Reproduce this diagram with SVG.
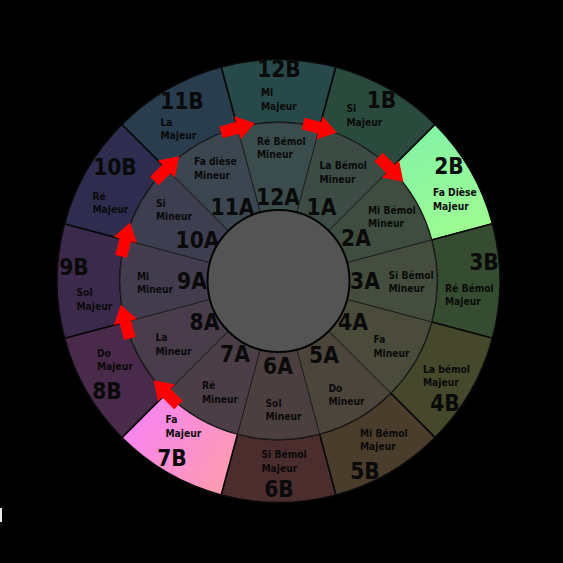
<svg xmlns="http://www.w3.org/2000/svg" width="563" height="563" viewBox="0 0 563 563">
<defs>
<style>
.b{stroke:#0a0a0a;stroke-width:1.6}
.a{stroke:#1e1e1e;stroke-width:0.9}
text{font-family:"DejaVu Sans Condensed","Liberation Sans",Arial,sans-serif;font-stretch:condensed;font-weight:bold;fill:#0a0a0a}
.big{font-size:22.5px;text-anchor:middle}
.sm{font-size:10.2px}
.arr{fill:#ff0000}
</style>
<linearGradient id="g2" gradientUnits="userSpaceOnUse" x1="420" y1="130" x2="480" y2="250">
<stop offset="0" stop-color="#84f2a6"/><stop offset="1" stop-color="#a2ff8e"/>
</linearGradient>
<linearGradient id="g7" gradientUnits="userSpaceOnUse" x1="135" y1="415" x2="235" y2="480">
<stop offset="0" stop-color="#f884f0"/><stop offset="1" stop-color="#ff9cae"/>
</linearGradient>
<polygon id="arrow" points="-17,-6 0,-6 0,-12 18,0 0,12 0,6 -17,6"/>
</defs>
<rect width="563" height="563" fill="#000"/>
<rect x="0" y="508" width="2" height="14" fill="#e8e8e8"/>

<g id="ring-b">
<g id="k12B"><path class="b" fill="#274949" d="M221.17,67.05 A221.5,221.5 0 0 1 335.83,67.05 L319.52,127.90 A158.5,158.5 0 0 0 237.48,127.90 Z"/><text class="big" x="279" y="77">12B</text><text class="sm" x="261" y="96">Mi<tspan x="261" dy="13.7">Majeur</tspan></text></g>
<g id="k1B"><path class="b" fill="#294a3c" d="M335.83,67.05 A221.5,221.5 0 0 1 435.12,124.38 L390.58,168.92 A158.5,158.5 0 0 0 319.52,127.90 Z"/><text class="big" x="381.5" y="108">1B</text><text class="sm" x="346.5" y="112">Si<tspan x="346.5" dy="13.7">Majeur</tspan></text></g>
<g id="k2B"><path class="b" fill="url(#g2)" d="M435.12,124.38 A221.5,221.5 0 0 1 492.45,223.67 L431.60,239.98 A158.5,158.5 0 0 0 390.58,168.92 Z"/><text class="big" x="449" y="174">2B</text><text class="sm" x="433" y="196">Fa Dièse<tspan x="433" dy="13.7">Majeur</tspan></text></g>
<g id="k3B"><path class="b" fill="#364c31" d="M492.45,223.67 A221.5,221.5 0 0 1 492.45,338.33 L431.60,322.02 A158.5,158.5 0 0 0 431.60,239.98 Z"/><text class="big" x="484" y="270">3B</text><text class="sm" x="445" y="291.5">Ré Bémol<tspan x="445" dy="13.7">Majeur</tspan></text></g>
<g id="k4B"><path class="b" fill="#45482a" d="M492.45,338.33 A221.5,221.5 0 0 1 435.12,437.62 L390.58,393.08 A158.5,158.5 0 0 0 431.60,322.02 Z"/><text class="sm" x="423" y="372.5">La bémol<tspan x="423" dy="13.7">Majeur</tspan></text><text class="big" x="445" y="410.5">4B</text></g>
<g id="k5B"><path class="b" fill="#4b3d2c" d="M435.12,437.62 A221.5,221.5 0 0 1 335.83,494.95 L319.52,434.10 A158.5,158.5 0 0 0 390.58,393.08 Z"/><text class="sm" x="360" y="436.5">Mi Bémol<tspan x="360" dy="13.7">Majeur</tspan></text><text class="big" x="365" y="479">5B</text></g>
<g id="k6B"><path class="b" fill="#4b2d2e" d="M335.83,494.95 A221.5,221.5 0 0 1 221.17,494.95 L237.48,434.10 A158.5,158.5 0 0 0 319.52,434.10 Z"/><text class="sm" x="261.5" y="458">Si Bémol<tspan x="261.5" dy="13.7">Majeur</tspan></text><text class="big" x="279" y="497">6B</text></g>
<g id="k7B"><path class="b" fill="url(#g7)" d="M221.17,494.95 A221.5,221.5 0 0 1 121.88,437.62 L166.42,393.08 A158.5,158.5 0 0 0 237.48,434.10 Z"/><text class="sm" x="165.5" y="423">Fa<tspan x="165.5" dy="13.7">Majeur</tspan></text><text class="big" x="172" y="465.5">7B</text></g>
<g id="k8B"><path class="b" fill="#4a2a4a" d="M121.88,437.62 A221.5,221.5 0 0 1 64.55,338.33 L125.40,322.02 A158.5,158.5 0 0 0 166.42,393.08 Z"/><text class="sm" x="97" y="356.5">Do<tspan x="97" dy="13.7">Majeur</tspan></text><text class="big" x="107" y="399">8B</text></g>
<g id="k9B"><path class="b" fill="#3c2a4c" d="M64.55,338.33 A221.5,221.5 0 0 1 64.55,223.67 L125.40,239.98 A158.5,158.5 0 0 0 125.40,322.02 Z"/><text class="big" x="74" y="274.5">9B</text><text class="sm" x="76.5" y="296">Sol<tspan x="76.5" dy="13.7">Majeur</tspan></text></g>
<g id="k10B"><path class="b" fill="#2e2d50" d="M64.55,223.67 A221.5,221.5 0 0 1 121.88,124.38 L166.42,168.92 A158.5,158.5 0 0 0 125.40,239.98 Z"/><text class="big" x="115" y="175">10B</text><text class="sm" x="92.5" y="199.5">Ré<tspan x="92.5" dy="13.7">Majeur</tspan></text></g>
<g id="k11B"><path class="b" fill="#293d4f" d="M121.88,124.38 A221.5,221.5 0 0 1 221.17,67.05 L237.48,127.90 A158.5,158.5 0 0 0 166.42,168.92 Z"/><text class="big" x="182" y="109">11B</text><text class="sm" x="160.5" y="125.5">La<tspan x="160.5" dy="13.7">Majeur</tspan></text></g>
</g>

<g id="ring-a">
<g id="k12A"><path class="a" fill="#3b4c4c" d="M237.48,127.90 A158.5,158.5 0 0 1 319.52,127.90 L296.88,212.42 A71,71 0 0 0 260.12,212.42 Z"/><text class="sm" x="257" y="144.5">Ré Bémol<tspan x="257" dy="13.7">Mineur</tspan></text><text class="big" x="278" y="205">12A</text></g>
<g id="k1A"><path class="a" fill="#3c4c44" d="M319.52,127.90 A158.5,158.5 0 0 1 390.58,168.92 L328.70,230.80 A71,71 0 0 0 296.88,212.42 Z"/><text class="sm" x="319.5" y="169">La Bémol<tspan x="319.5" dy="13.7">Mineur</tspan></text><text class="big" x="321.5" y="215">1A</text></g>
<g id="k2A"><path class="a" fill="#3f4d40" d="M390.58,168.92 A158.5,158.5 0 0 1 431.60,239.98 L347.08,262.62 A71,71 0 0 0 328.70,230.80 Z"/><text class="sm" x="368" y="213.5">Mi Bémol<tspan x="368" dy="13.7">Mineur</tspan></text><text class="big" x="356" y="246">2A</text></g>
<g id="k3A"><path class="a" fill="#454e3e" d="M431.60,239.98 A158.5,158.5 0 0 1 431.60,322.02 L347.08,299.38 A71,71 0 0 0 347.08,262.62 Z"/><text class="big" x="365" y="289">3A</text><text class="sm" x="388.5" y="278.5">Si Bémol<tspan x="388.5" dy="13.7">Mineur</tspan></text></g>
<g id="k4A"><path class="a" fill="#4a4b3b" d="M431.60,322.02 A158.5,158.5 0 0 1 390.58,393.08 L328.70,331.20 A71,71 0 0 0 347.08,299.38 Z"/><text class="big" x="353" y="330">4A</text><text class="sm" x="373.5" y="343">Fa<tspan x="373.5" dy="13.7">Mineur</tspan></text></g>
<g id="k5A"><path class="a" fill="#4c453c" d="M390.58,393.08 A158.5,158.5 0 0 1 319.52,434.10 L296.88,349.58 A71,71 0 0 0 328.70,331.20 Z"/><text class="big" x="324" y="362.5">5A</text><text class="sm" x="328.5" y="391.5">Do<tspan x="328.5" dy="13.7">Mineur</tspan></text></g>
<g id="k6A"><path class="a" fill="#4c3f3f" d="M319.52,434.10 A158.5,158.5 0 0 1 237.48,434.10 L260.12,349.58 A71,71 0 0 0 296.88,349.58 Z"/><text class="big" x="278" y="373.5">6A</text><text class="sm" x="265.5" y="406.5">Sol<tspan x="265.5" dy="13.7">Mineur</tspan></text></g>
<g id="k7A"><path class="a" fill="#4c3e47" d="M237.48,434.10 A158.5,158.5 0 0 1 166.42,393.08 L228.30,331.20 A71,71 0 0 0 260.12,349.58 Z"/><text class="big" x="235" y="362">7A</text><text class="sm" x="202" y="389">Ré<tspan x="202" dy="13.7">Mineur</tspan></text></g>
<g id="k8A"><path class="a" fill="#493c4b" d="M166.42,393.08 A158.5,158.5 0 0 1 125.40,322.02 L209.92,299.38 A71,71 0 0 0 228.30,331.20 Z"/><text class="big" x="204.5" y="330">8A</text><text class="sm" x="155.5" y="341">La<tspan x="155.5" dy="13.7">Mineur</tspan></text></g>
<g id="k9A"><path class="a" fill="#433c4f" d="M125.40,322.02 A158.5,158.5 0 0 1 125.40,239.98 L209.92,262.62 A71,71 0 0 0 209.92,299.38 Z"/><text class="big" x="192" y="289">9A</text><text class="sm" x="137" y="279.5">Mi<tspan x="137" dy="13.7">Mineur</tspan></text></g>
<g id="k10A"><path class="a" fill="#3e3e51" d="M125.40,239.98 A158.5,158.5 0 0 1 166.42,168.92 L228.30,230.80 A71,71 0 0 0 209.92,262.62 Z"/><text class="big" x="197.5" y="248">10A</text><text class="sm" x="156" y="206.5">Si<tspan x="156" dy="13.7">Mineur</tspan></text></g>
<g id="k11A"><path class="a" fill="#3b4651" d="M166.42,168.92 A158.5,158.5 0 0 1 237.48,127.90 L260.12,212.42 A71,71 0 0 0 228.30,230.80 Z"/><text class="sm" x="194" y="165">Fa dièse<tspan x="194" dy="13.7">Mineur</tspan></text><text class="big" x="232.5" y="214.5">11A</text></g>
</g>

<g id="center"><circle cx="278.5" cy="281" r="71" fill="#545454" stroke="#050505" stroke-width="2"/></g>

<g id="connectors" class="arr">
<use href="#arrow" transform="translate(166.42,393.08) rotate(225)"/>
<use href="#arrow" transform="translate(125.40,322.02) rotate(255)"/>
<use href="#arrow" transform="translate(125.40,239.98) rotate(285)"/>
<use href="#arrow" transform="translate(166.42,168.92) rotate(315)"/>
<use href="#arrow" transform="translate(237.48,127.90) rotate(345)"/>
<use href="#arrow" transform="translate(319.52,127.90) rotate(15)"/>
<use href="#arrow" transform="translate(390.58,168.92) rotate(45)"/>
</g>
</svg>
